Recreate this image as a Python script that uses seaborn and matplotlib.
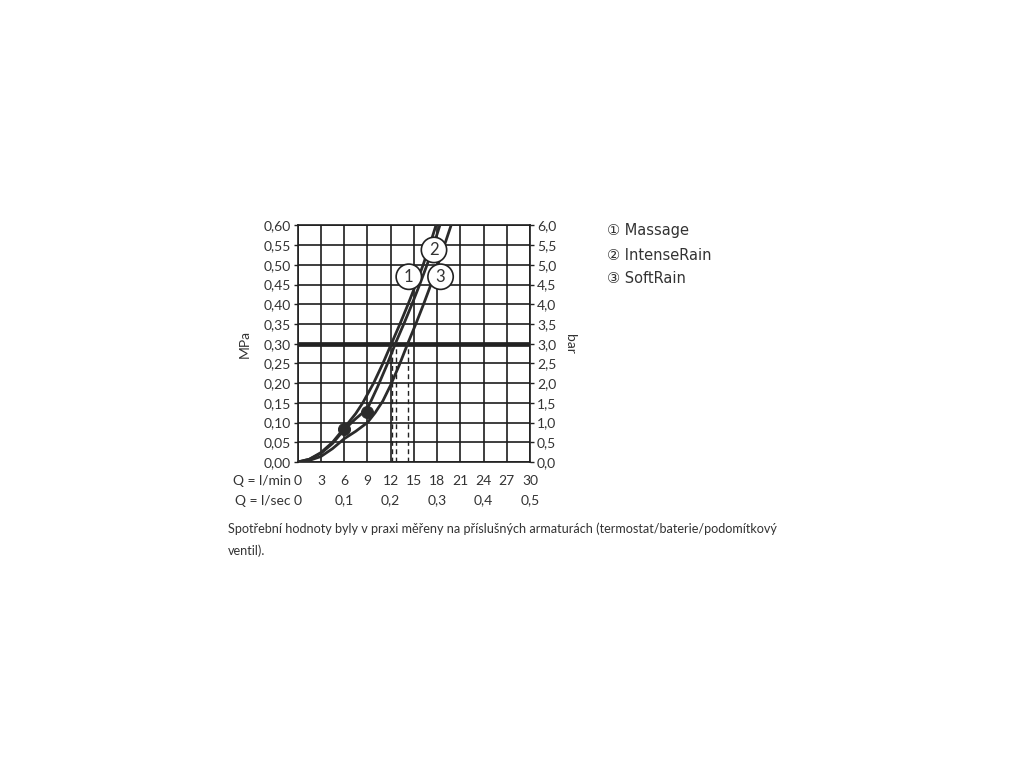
import matplotlib
matplotlib.use("Agg")
import matplotlib.pyplot as plt
import matplotlib.transforms as mtransforms
import seaborn as sns
import pandas as pd

# ---- data ----
massage_q = [0, 1.5, 3, 4.5, 6, 7.5, 8.4, 9.8, 11.0, 12.1, 13.2, 14.25, 15.25, 16.2, 17.05, 17.85]
massage_p = [0, 0.007, 0.024, 0.050, 0.086, 0.123, 0.150, 0.200, 0.250, 0.300, 0.350, 0.400,
             0.450, 0.500, 0.550, 0.600]

intense_q = [0, 1.5, 3, 4.5, 6, 7.5, 9.0, 10.3, 11.5, 12.6, 13.7, 14.75, 15.75, 16.7, 17.55, 18.35]
intense_p = [0, 0.007, 0.022, 0.047, 0.082, 0.110, 0.135, 0.190, 0.245, 0.300, 0.350, 0.400,
             0.450, 0.500, 0.550, 0.600]

soft_q = [0, 1.5, 3, 4.5, 6, 7.5, 9, 10, 11, 12, 13.1, 14.2, 15.25, 16.25, 17.2, 18.1, 18.95, 19.8]
soft_p = [0, 0.004, 0.014, 0.034, 0.059, 0.078, 0.100, 0.125, 0.155, 0.195, 0.245, 0.300,
          0.350, 0.400, 0.450, 0.500, 0.550, 0.600]

series_names = ["Massage", "IntenseRain", "SoftRain"]
series_marks = ["1", "2", "3"]
legend_marks = ["\u2460", "\u2461", "\u2462"]
label_pos_q = [14.35, 17.6, 18.45]
label_pos_p = [0.470, 0.538, 0.470]

dot_q = [6, 8.9]
dot_p = [0.085, 0.128]

nominal_pressure = 0.30
flow_at_nominal = [12.2, 12.65, 14.2]

x_ticks = [0, 3, 6, 9, 12, 15, 18, 21, 24, 27, 30]
x_ticklabels = ["0", "3", "6", "9", "12", "15", "18", "21", "24", "27", "30"]
lsec_pos = [0, 6, 12, 18, 24, 30]
lsec_labels = ["0", "0,1", "0,2", "0,3", "0,4", "0,5"]
y_ticks = [0.0, 0.05, 0.10, 0.15, 0.20, 0.25, 0.30, 0.35, 0.40, 0.45, 0.50, 0.55, 0.60]
y_ticklabels = ["0,00", "0,05", "0,10", "0,15", "0,20", "0,25", "0,30",
                "0,35", "0,40", "0,45", "0,50", "0,55", "0,60"]
bar_ticklabels = ["0,0", "0,5", "1,0", "1,5", "2,0", "2,5", "3,0",
                  "3,5", "4,0", "4,5", "5,0", "5,5", "6,0"]
caption_lines = ["Spotřební hodnoty byly v praxi měřeny na příslušných armaturách (termostat/baterie/podomítkový",
                 "ventil)."]

# ---- style ----
sns.set_style("white")
plt.rcParams["font.family"] = ["Lato", "DejaVu Sans", "Noto Sans CJK SC"]
TXT = "#333333"
LINE = "#2b2b2b"

fig = plt.figure(figsize=(10.24, 7.68), dpi=100)
ax = fig.add_axes([0.2907, 0.3984, 0.2269, 0.3080])

# grid
ax.set_xlim(0, 30)
ax.set_ylim(0, 0.60)
ax.set_xticks(x_ticks)
ax.set_yticks(y_ticks)
ax.grid(True, color="#1e1e1e", linewidth=1.2)
ax.set_axisbelow(True)
for s in ax.spines.values():
    s.set_color("#1e1e1e")
    s.set_linewidth(1.2)

# nominal pressure line
ax.axhline(nominal_pressure, color="#222222", linewidth=3.4, zorder=3)

# dashed verticals
for q in flow_at_nominal:
    ax.plot([q, q], [0, nominal_pressure], color="#222222", linewidth=1.0,
            linestyle=(0, (3.5, 2.5)), zorder=3)

# curves
frames = []
for name, qs, ps in zip(series_names, [massage_q, intense_q, soft_q],
                        [massage_p, intense_p, soft_p]):
    frames.append(pd.DataFrame({"Q": qs, "p": ps, "series": name}))
df = pd.concat(frames, ignore_index=True)
sns.lineplot(data=df, x="Q", y="p", units="series", estimator=None, sort=False,
             color=LINE, linewidth=2.0, ax=ax, zorder=4, legend=False)

# dots
sns.scatterplot(x=dot_q, y=dot_p, s=75, color=LINE, edgecolor=LINE, ax=ax, zorder=5, legend=False)

# curve number circles
for m, q, p in zip(series_marks, label_pos_q, label_pos_p):
    ax.text(q, p, m, ha="center", va="center", fontsize=12, color=TXT, zorder=6,
            bbox=dict(boxstyle="circle,pad=0.28", fc="white", ec="#222222", lw=1.2))

# ticks and labels
ax.set_xticklabels([])
ax.set_yticklabels(y_ticklabels, fontsize=10, color=TXT)
ax.tick_params(axis="y", length=3, width=1, color="#222222", pad=2, left=True)
ax.tick_params(axis="x", length=0)
ax.set_xlabel("")
ax.set_ylabel("MPa", fontsize=10, color=TXT, labelpad=9)

ax2 = ax.twinx()
ax2.set_ylim(0, 0.60)
ax2.set_yticks(y_ticks)
ax2.set_yticklabels(bar_ticklabels, fontsize=10, color=TXT)
ax2.tick_params(axis="y", length=3, width=1, color="#222222", pad=2)
ax2.set_ylabel("bar", fontsize=10, color=TXT, rotation=270, labelpad=14)
for s in ax2.spines.values():
    s.set_visible(False)

# bottom rows
trans = mtransforms.blended_transform_factory(ax.transData, ax.transAxes)
row1_y = -0.082
row2_y = -0.163
for q, lab in zip(x_ticks, x_ticklabels):
    ax.text(q, row1_y, lab, transform=trans, ha="center", va="center", fontsize=10, color=TXT)
for q, lab in zip(lsec_pos, lsec_labels):
    ax.text(q, row2_y, lab, transform=trans, ha="center", va="center", fontsize=10, color=TXT)
ax.text(-0.03, row1_y, "Q = l/min", transform=ax.transAxes, ha="right", va="center", fontsize=10, color=TXT)
ax.text(-0.03, row2_y, "Q = l/sec", transform=ax.transAxes, ha="right", va="center", fontsize=10, color=TXT)

# legend text
leg_y = [231, 255, 278]
for mk, name, y in zip(legend_marks, series_names, leg_y):
    fig.text(607 / 1024, 1 - y / 768, mk + " " + name, ha="left", va="center",
             fontsize=10.5, color=TXT, family=["DejaVu Sans", "Noto Sans CJK SC"])

# caption
fig.text(228 / 1024, 1 - 529 / 768, caption_lines[0], ha="left", va="center", fontsize=9.1, color=TXT)
fig.text(228 / 1024, 1 - 551 / 768, caption_lines[1], ha="left", va="center", fontsize=9.1, color=TXT)

fig.savefig("out.png", dpi=100, facecolor="white")
